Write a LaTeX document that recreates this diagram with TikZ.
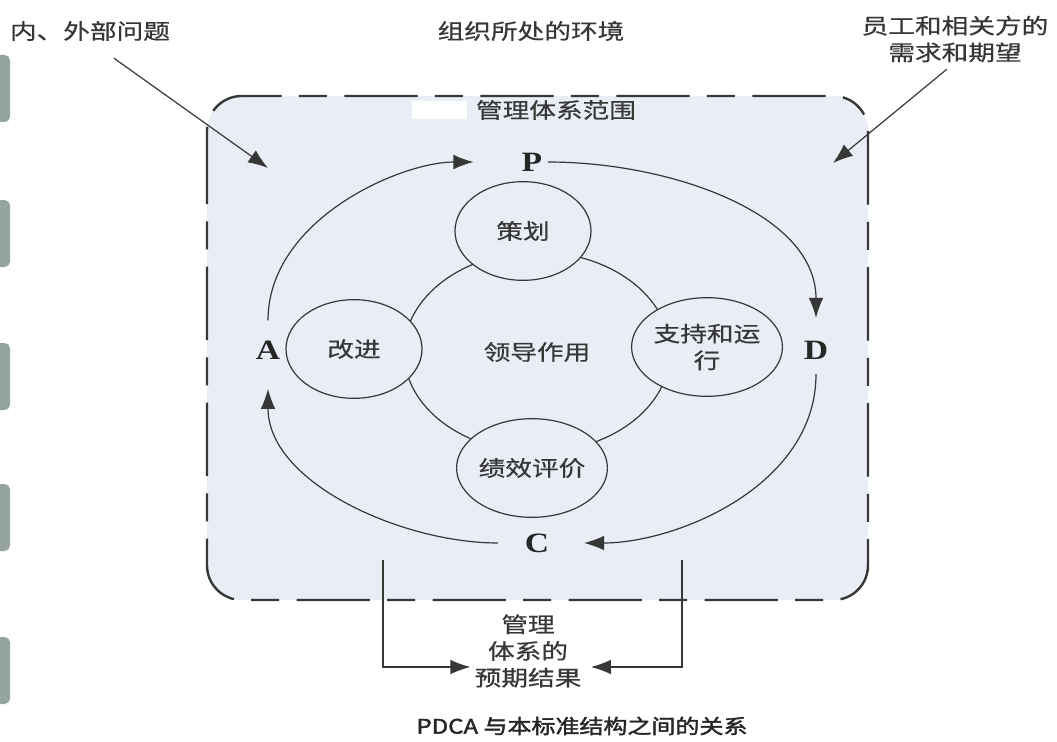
\documentclass[tikz,border=0pt]{standalone}
\usepackage{fontspec}
\usetikzlibrary{arrows.meta,positioning,shapes.geometric}
\newfontfamily\cjk{Noto Sans CJK SC}[FakeStretch=1.25,FakeBold=0.6]
\newfontfamily\cjkbold{Noto Sans CJK SC}[FakeStretch=1.2,FakeBold=2]
\newfontfamily\pdca{Liberation Serif}[FakeStretch=1.2]
\definecolor{scopebg}{RGB}{232,237,246}
\definecolor{ink}{RGB}{55,55,55}
\definecolor{sidebar}{RGB}{150,164,160}

\begin{document}
\begin{tikzpicture}[x=0.75pt, y=0.75pt,
    lbl/.style={font=\cjk\fontsize{16}{20}\selectfont, text=ink, inner sep=0pt, align=center},
    stage/.style={ellipse, draw=ink, line width=0.9pt, fill=scopebg, minimum width=102pt, minimum height=74pt, inner sep=0pt, lbl},
    letter/.style={font=\pdca\bfseries\fontsize{21}{24}\selectfont, text=black!85, inner sep=0pt},
    cyc/.style={draw=ink, line width=0.9pt, -{Latex[length=15pt,width=11pt]}}
  ]
    \useasboundingbox (0,0) rectangle (1057,-742);

    % bars cut off at the left edge
    \foreach \y in {55,200,343,484,637} {
        \fill[sidebar, rounded corners=4pt] (-10,-\y) rectangle (10,-\y-67);
    }

    % scope of the management system
    \draw[ink, line width=1.8pt, dash pattern=on 55pt off 13pt on 21pt off 13pt,
          fill=scopebg, rounded corners=26pt] (207,-96) rectangle (868,-600);
    \fill[white] (412,-101) rectangle (467,-119);
    \node[lbl] (scope) at (556,-110) {管理体系范围};

    % outside labels
    \node[lbl] (issues) at (90,-31) {内、外部问题};
    \node[lbl] (env) at (531,-31) {组织所处的环境};
    \node[lbl] (needs) at (955,-39) {员工和相关方的\\需求和期望};
    \coordinate (issuesTip) at (268,-168);
    \coordinate (needsTip) at (833,-163);
    \draw[cyc, shorten <=22pt] (issues.south) -- (issuesTip);
    \draw[cyc, shorten <=8pt] (needs.south) -- (needsTip);

    % leadership and the four stages
    \node[ellipse, draw=ink, line width=0.9pt, minimum width=199.5pt, minimum height=150pt, lbl]
        (lead) at (537,-352) {领导作用};
    \node[stage] (plan) at (523,-231) {策划};
    \node[stage] (improve) at (354,-349) {改进};
    \node[stage] (support) at (707,-347) {支持和运\\行};
    \node[stage] (evaluate) at (532,-468) {绩效评价};

    % PDCA cycle
    \node[letter] (P) at (532,-162) {P};
    \node[letter] (D) at (816,-350) {D};
    \node[letter] (C) at (537,-543) {C};
    \node[letter] (A) at (268,-350) {A};
    \draw[cyc, shorten <=15pt, shorten >=36pt] (A.north) to[out=90, in=180] (P.west);
    \draw[cyc, shorten <=4pt, shorten >=17pt] (P.east) to[out=0, in=90] (D.north);
    \draw[cyc, shorten <=11pt, shorten >=26pt] (D.south) to[out=-90, in=0] (C.east);
    \draw[cyc, shorten <=20pt, shorten >=22pt] (C.west) to[out=180, in=-90] (A.south);

    % intended outcomes
    \node[lbl] (result) at (528,-651) {管理\\体系的\\预期结果};
    \coordinate (outL) at (383,-560);
    \coordinate (outR) at (682,-560);
    \draw[cyc, shorten >=3pt] (outL) |- ([yshift=-12pt]result.west);
    \draw[cyc, shorten >=7pt] (outR) |- ([yshift=-12pt]result.east);

    \node[font=\cjkbold\fontsize{15}{17}\selectfont, text=black!85, inner sep=0pt]
        (caption) at (582,-726) {PDCA 与本标准结构之间的关系};
\end{tikzpicture}
\end{document}
